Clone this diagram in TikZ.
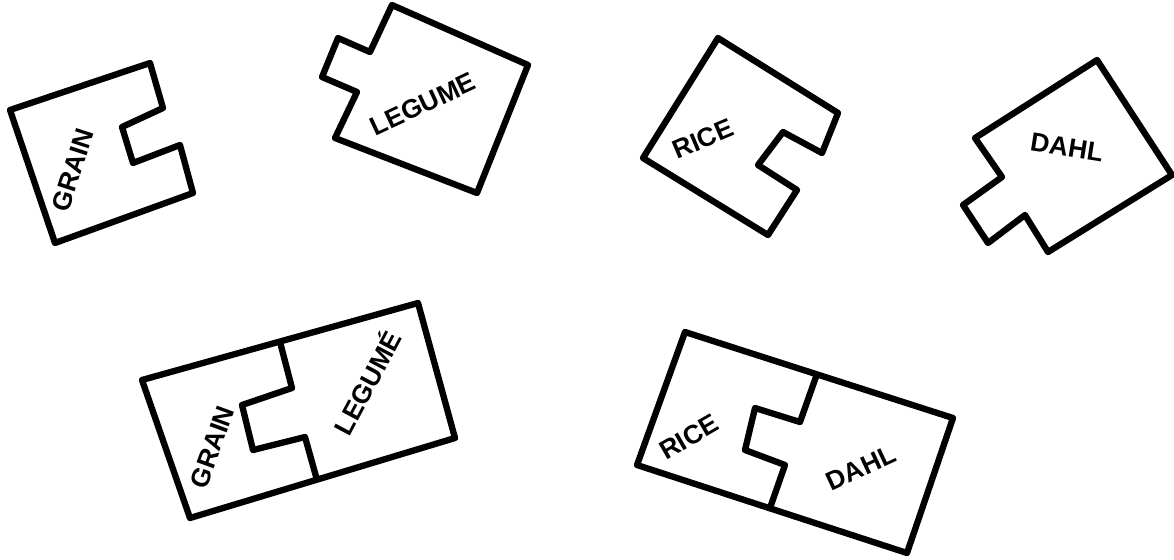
\documentclass[tikz,border=0pt]{standalone}
\usepackage{fontspec}
\setmainfont{Liberation Sans}
\usepackage{tikz}

\begin{document}
\begin{tikzpicture}[x=0.02cm, y=-0.02cm,
    piece/.style={line width=3.6pt, line join=round},
    word/.style={font=\fontsize{15}{15}\selectfont\bfseries}]
    \useasboundingbox (0,0) rectangle (1174,559);

    % grain piece
    \draw[piece] (10,110) -- (150,63) -- (163,108) -- (122,127) -- (133,163)
        -- (180,145) -- (193,193) -- (55,243) -- cycle;
    \node[word, rotate=72] (grain) at (73,170) {GRAIN};

    % legume piece
    \draw[piece] (392,5) -- (528,65) -- (477,193) -- (335,138) -- (357,92)
        -- (322,77) -- (338,38) -- (370,52) -- cycle;
    \node[word, rotate=25] (legume) at (423,104) {LEGUME};

    % rice piece
    \draw[piece] (718,38) -- (838,113) -- (822,153) -- (783,132) -- (758,165)
        -- (797,190) -- (768,235) -- (643,158) -- cycle;
    \node[word, rotate=23] (rice) at (703,139) {RICE};

    % dahl piece
    \draw[piece] (1097,60) -- (1172,175) -- (1048,252) -- (1025,215) -- (988,243)
        -- (963,205) -- (1002,177) -- (975,138) -- cycle;
    \node[word, rotate=-9] (dahl) at (1067,147) {DAHL};

    % grain + legume joined
    \draw[piece] (142,380) -- (418,303) -- (455,438) -- (190,518) -- cycle;
    \draw[piece] (280,342) -- (292,388) -- (242,405) -- (253,450) -- (305,437)
        -- (317,480);
    \node[word, rotate=70] (grainB) at (212,447) {GRAIN};
    \node[word, rotate=62] (legumeB) at (366,382) {LEGUMÉ};

    % rice + dahl joined
    \draw[piece] (685,332) -- (953,418) -- (907,553) -- (637,465) -- cycle;
    \draw[piece] (817,374) -- (800,422) -- (755,408) -- (745,450) -- (785,465)
        -- (770,508);
    \node[word, rotate=30] (riceB) at (689,437) {RICE};
    \node[word, rotate=25] (dahlB) at (861,468) {DAHL};
\end{tikzpicture}
\end{document}
